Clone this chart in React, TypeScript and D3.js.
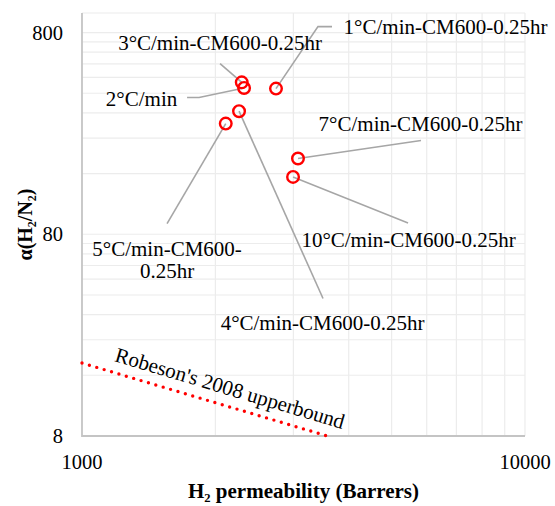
import React, { useRef, useEffect } from "react";
import * as d3 from "d3";

// sample labels and measured values (H2 permeability in Barrers, H2/N2 selectivity)
const sampleNames = [
  "1°C/min-CM600-0.25hr",
  "2°C/min",
  "3°C/min-CM600-0.25hr",
  "4°C/min-CM600-0.25hr",
  "5°C/min-CM600-0.25hr",
  "7°C/min-CM600-0.25hr",
  "10°C/min-CM600-0.25hr",
];
const permeability = [2741, 2322, 2294, 2262, 2111, 3073, 2995];
const selectivity = [422, 425, 453, 326, 283, 190, 154];

// Robeson 2008 upper bound, end points
const boundX = [1000, 3580];
const boundY = [18.4, 8];

const xTicks = [1000, 10000];
const yTicks = [8, 80, 800];

// where each label sits relative to its point (pixels): text centre, leader end, optional elbow
const labelLayout = {
  "1°C/min-CM600-0.25hr": { tx: 169.5, ty: -62, lx: 42, ly: -62, ex: 56 },
  "2°C/min": { tx: -102.5, ty: 10.7, lx: -45, ly: 9.5, ex: -57 },
  "3°C/min-CM600-0.25hr": { tx: -21.7, ty: -39.7, lx: -21.7, ly: -18.7 },
  "4°C/min-CM600-0.25hr": { tx: 83.5, ty: 211.3, lx: 84, ly: 187.3 },
  "5°C/min-CM600-0.25hr": { tx: -58.7, ty: 136, lx: -58.7, ly: 100, lines: ["5°C/min-CM600-", "0.25hr"] },
  "7°C/min-CM600-0.25hr": { tx: 122.5, ty: -35, lx: 123, ly: -18 },
  "10°C/min-CM600-0.25hr": { tx: 115.5, ty: 63, lx: 115, ly: 46 },
};

const App = () => {
  const svgRef = useRef(null);
  const width = 555;
  const height = 506;
  const margin = { top: 13, right: 30, bottom: 70, left: 82 };

  useEffect(() => {
    const svg = d3.select(svgRef.current);
    svg.selectAll("*").remove();

    const font = "'Liberation Serif', 'Times New Roman', serif";

    const x = d3
      .scaleLog()
      .domain([1000, 10000])
      .range([margin.left, width - margin.right]);
    const y = d3
      .scaleLog()
      .domain([8, 1000])
      .range([height - margin.bottom, margin.top]);

    // grid lines (major + minor, Excel style)
    const xGrid = [];
    for (let k = 2; k <= 10; k++) xGrid.push(k * 1000);
    const yGrid = [];
    [8, 80].forEach((b) => {
      for (let k = 2; k <= 10; k++) yGrid.push(k * b);
    });
    yGrid.push(1000);

    const grid = svg.append("g");
    grid
      .selectAll(".gx")
      .data(xGrid)
      .enter()
      .append("line")
      .attr("x1", (d) => x(d))
      .attr("x2", (d) => x(d))
      .attr("y1", y(8))
      .attr("y2", y(1000))
      .attr("stroke", "#ececec")
      .attr("stroke-width", 1.2);
    grid
      .selectAll(".gy")
      .data(yGrid)
      .enter()
      .append("line")
      .attr("x1", x(1000))
      .attr("x2", x(10000))
      .attr("y1", (d) => y(d))
      .attr("y2", (d) => y(d))
      .attr("stroke", "#ececec")
      .attr("stroke-width", 1.2);

    // axis lines
    svg
      .append("line")
      .attr("x1", x(1000))
      .attr("x2", x(1000))
      .attr("y1", y(8) + 1)
      .attr("y2", y(1000))
      .attr("stroke", "#c4c4c4")
      .attr("stroke-width", 1.8);
    svg
      .append("line")
      .attr("x1", x(1000))
      .attr("x2", x(10000))
      .attr("y1", y(8))
      .attr("y2", y(8))
      .attr("stroke", "#c4c4c4")
      .attr("stroke-width", 1.8);

    // tick labels
    svg
      .selectAll(".xt")
      .data(xTicks)
      .enter()
      .append("text")
      .attr("x", (d) => x(d))
      .attr("y", y(8) + 33)
      .attr("text-anchor", "middle")
      .style("font-family", font)
      .style("font-size", "20.5px")
      .text((d) => d);
    svg
      .selectAll(".yt")
      .data(yTicks)
      .enter()
      .append("text")
      .attr("x", margin.left - 19)
      .attr("y", (d) => y(d))
      .attr("dy", "0.35em")
      .attr("text-anchor", "end")
      .style("font-family", font)
      .style("font-size", "20.5px")
      .text((d) => d);

    // axis titles
    svg
      .append("text")
      .attr("x", (x(1000) + x(10000)) / 2)
      .attr("y", 498)
      .attr("text-anchor", "middle")
      .style("font-family", font)
      .style("font-size", "21px")
      .style("font-weight", "bold")
      .text("H₂ permeability (Barrers)");
    svg
      .append("text")
      .attr("transform", `translate(32, ${(y(8) + y(1000)) / 2}) rotate(-90)`)
      .attr("text-anchor", "middle")
      .style("font-family", font)
      .style("font-size", "20px")
      .style("font-weight", "bold")
      .text("α(H₂/N₂)");

    // Robeson upper bound
    const bound = boundX.map((v, i) => [v, boundY[i]]);
    svg
      .append("path")
      .datum(bound)
      .attr("d", d3.line().x((d) => x(d[0])).y((d) => y(d[1])))
      .attr("fill", "none")
      .attr("stroke", "#ff0000")
      .attr("stroke-width", 3.4)
      .attr("stroke-linecap", "round")
      .attr("stroke-dasharray", "0 7.7");

    const bx0 = x(boundX[0]);
    const by0 = y(boundY[0]);
    const angle =
      (Math.atan2(y(boundY[1]) - by0, x(boundX[1]) - bx0) * 180) / Math.PI;
    svg
      .append("text")
      .attr("transform", `translate(${bx0 + 146}, ${by0 + 32}) rotate(${angle})`)
      .attr("text-anchor", "middle")
      .style("font-family", font)
      .style("font-size", "21px")
      .text("Robeson's 2008 upperbound");

    // leader lines and labels
    const points = sampleNames.map((name, i) => ({
      name,
      px: x(permeability[i]),
      py: y(selectivity[i]),
    }));

    points.forEach((p) => {
      const l = labelLayout[p.name];
      const path = d3.path();
      path.moveTo(p.px, p.py);
      path.lineTo(p.px + l.lx, p.py + l.ly);
      if (l.ex !== undefined) path.lineTo(p.px + l.ex, p.py + l.ly);
      svg
        .append("path")
        .attr("d", path.toString())
        .attr("fill", "none")
        .attr("stroke", "#a6a6a6")
        .attr("stroke-width", 1.6);

      const lines = l.lines || [p.name];
      const t = svg
        .append("text")
        .attr("text-anchor", "middle")
        .style("font-family", font)
        .style("font-size", "21px");
      lines.forEach((s, j) => {
        t.append("tspan")
          .attr("x", p.px + l.tx)
          .attr("y", p.py + l.ty + j * 22 - ((lines.length - 1) * 22) / 2)
          .attr("dy", "0.35em")
          .text(s);
      });
    });

    // markers
    svg
      .selectAll(".pt")
      .data(points)
      .enter()
      .append("circle")
      .attr("cx", (d) => d.px)
      .attr("cy", (d) => d.py)
      .attr("r", 5.8)
      .attr("fill", "none")
      .attr("stroke", "#ff0000")
      .attr("stroke-width", 2.4);
  }, []);

  return (
    <svg
      ref={svgRef}
      width={width}
      height={height}
      style={{ position: "absolute", left: 0, top: 0, background: "#fff" }}
    ></svg>
  );
};

export default App;
